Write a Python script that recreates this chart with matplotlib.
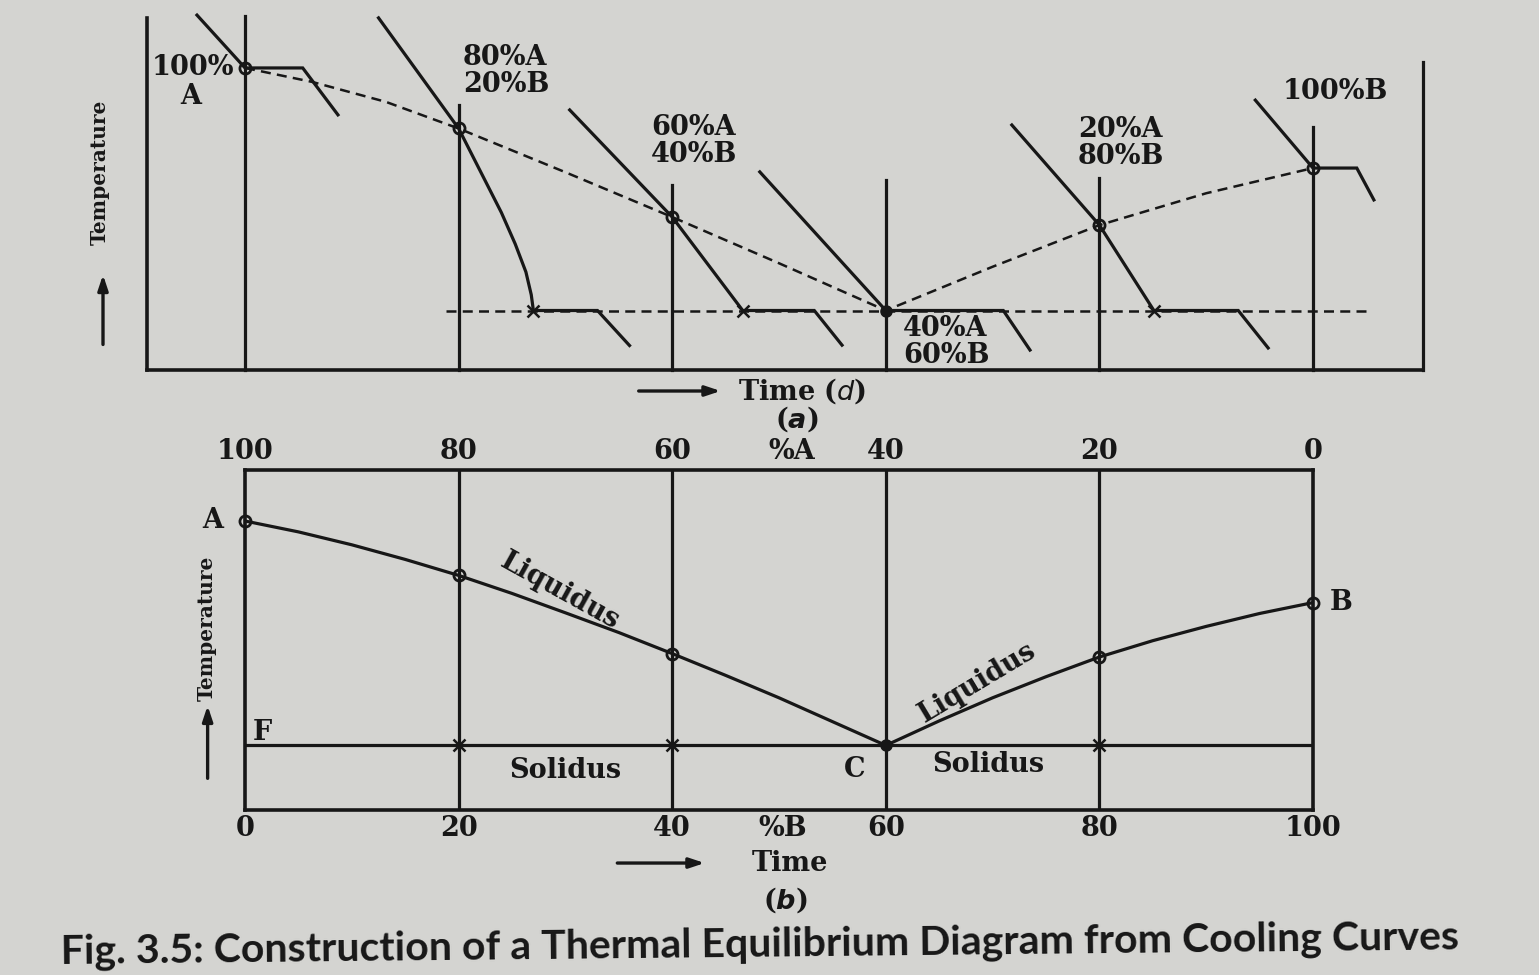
import numpy as np
import matplotlib
matplotlib.use("Agg")
import matplotlib.pyplot as plt

# ---- data (panel a: cooling curves, x = composition %B, y = temperature) ----
vert_x_a   = [0, 20, 40, 60, 80, 100]
vert_top_a = [101, 75.7, 52.9, 54.3, 54.9, 69.4]

cool_A_x  = [-4.5, 0, 5.4, 8.7]
cool_A_t  = [101.4, 86.3, 86.3, 72.9]
cool_80_x = [12.5, 20, 22, 24, 25.3, 26.3, 26.8, 27, 33, 36]
cool_80_t = [100.6, 69, 57, 45, 36, 28, 21.5, 17, 17, 7]
cool_60_x = [30.4, 40, 46.6, 53.3, 55.9]
cool_60_t = [74.3, 43.7, 17, 17, 7.1]
cool_40_x = [48.2, 60, 71, 73.5]
cool_40_t = [56.6, 17, 17, 5.7]
cool_20_x = [71.8, 80, 85.1, 93, 95.8]
cool_20_t = [70, 41.4, 17, 17, 6.3]
cool_B_x  = [94.6, 100, 104.1, 105.7]
cool_B_t  = [77.1, 57.7, 57.7, 48.6]

liq_a_x = [0, 6.3, 13.2, 20, 30, 40, 50, 60, 70, 80, 90, 100]
liq_a_t = [86.3, 82.3, 76.6, 69, 56.5, 43.7, 30.5, 17, 29.5, 41.4, 50.5, 57.7]
sol_a_x = [18.8, 105.1]
sol_a_t = 17

liq_pts_a_x = [0, 20, 40, 80, 100]
liq_pts_a_t = [86.3, 69, 43.7, 41.4, 57.7]
sol_pts_a_x = [27, 46.6, 85.1]
eut_a = (60, 17)

labels_a = ["100%", "A", "80%A\n20%B", "60%A\n40%B", "40%A\n60%B", "20%A\n80%B", "100%B"]

# ---- data (panel b: equilibrium diagram) ----
comp_b    = [0, 20, 40, 60, 80, 100]
pct_A     = ["100", "80", "60", "40", "20", "0"]
pct_B     = ["0", "20", "40", "60", "80", "100"]
liq_left_x  = [0, 5, 10, 15, 20, 25, 30, 35, 40, 45, 50, 55, 60]
liq_left_t  = [85, 81.8, 78, 73.7, 69, 63.7, 58, 52.2, 46, 39.6, 33, 26, 19]
liq_right_x = [60, 65, 70, 75, 80, 85, 90, 95, 100]
liq_right_t = [19, 26.2, 33, 39.2, 45, 49.8, 54, 57.8, 61]
solidus_t   = 19
open_pts_x  = [0, 20, 40, 80, 100]
open_pts_t  = [85, 69, 46, 45, 61]
cross_x     = [20, 40, 80]

INK = "#171717"
BG = "#d4d4d1"
plt.rcParams["font.family"] = "DejaVu Serif"

fig = plt.figure(figsize=(15.39, 9.75), dpi=100, facecolor=BG)

# ---------------------------- panel (a) ----------------------------
axa = fig.add_axes([147 / 1539, 605 / 975, 1276 / 1539, 350 / 975])
axa.set_facecolor("none")
axa.set_xlim(-9.18, 110.3)
axa.set_ylim(0, 100)
for s in ["top", "right"]:
    axa.spines[s].set_visible(False)
for s in ["left", "bottom"]:
    axa.spines[s].set_linewidth(2.6)
    axa.spines[s].set_color(INK)
axa.spines["left"].set_bounds(0, 100.6)
axa.set_xticks([])
axa.set_yticks([])

lw = 2.3
for x, top in zip(vert_x_a, vert_top_a):
    axa.plot([x, x], [0, top], color=INK, lw=lw, clip_on=False)
axa.plot([110.3, 110.3], [0, 88], color=INK, lw=lw, clip_on=False)

for cx, ct in [(cool_A_x, cool_A_t), (cool_80_x, cool_80_t), (cool_60_x, cool_60_t),
               (cool_40_x, cool_40_t), (cool_20_x, cool_20_t), (cool_B_x, cool_B_t)]:
    axa.plot(cx, ct, color=INK, lw=lw, clip_on=False, solid_joinstyle="miter")

axa.plot(liq_a_x, liq_a_t, color=INK, lw=1.8, ls=(0, (4, 2.5)))
axa.plot(sol_a_x, [sol_a_t, sol_a_t], color=INK, lw=1.8, ls=(0, (4, 2.5)), clip_on=False)
axa.plot(liq_pts_a_x, liq_pts_a_t, "o", ms=8, mfc="none", mec=INK, mew=2, ls="none")
axa.plot(sol_pts_a_x, [sol_a_t] * 3, "x", ms=9, mec=INK, mew=1.8, ls="none")
axa.plot(*eut_a, "o", ms=8, color=INK)

fs = 19.5
kw = dict(color=INK, fontsize=fs, fontweight="bold", linespacing=1.0)
kw_t = dict(color=INK, fontsize=14.5, fontweight="bold")
axa.text(-1.0, 86.3, labels_a[0], ha="right", va="center", **kw)
axa.text(-5.1, 78, labels_a[1], ha="center", va="center", **kw)
axa.text(20.4, 85.3, labels_a[2], ha="left", va="center", **kw)
axa.text(38.0, 65.4, labels_a[3], ha="left", va="center", **kw)
axa.text(61.6, 8.0, labels_a[4], ha="left", va="center", **kw)
axa.text(78.0, 64.9, labels_a[5], ha="left", va="center", **kw)
axa.text(97.2, 79.7, labels_a[6], ha="left", va="center", **kw)

axa.text(-13.6, 56.6, "Temperature", rotation=90, ha="center", va="center", **kw_t)
axa.annotate("", xy=(-13.3, 28), xytext=(-13.3, 6.5), annotation_clip=False,
             arrowprops=dict(arrowstyle="-|>,head_length=0.9,head_width=0.3", color=INK, lw=2.4))
axa.annotate("", xy=(44.8, -6), xytext=(36.6, -6), annotation_clip=False,
             arrowprops=dict(arrowstyle="-|>,head_length=0.9,head_width=0.3", color=INK, lw=2.4))
axa.text(46.2, -6, "Time ($d$)", ha="left", va="center", **kw)
axa.text(51.7, -13.9, "($\\boldsymbol{a}$)", ha="center", va="center", **kw)

# ---------------------------- panel (b) ----------------------------
axb = fig.add_axes([245 / 1539, 165 / 975, 1068 / 1539, 340 / 975])
axb.set_facecolor("none")
axb.set_xlim(0, 100)
axb.set_ylim(0, 100)
for s in axb.spines.values():
    s.set_linewidth(2.6)
    s.set_color(INK)
axb.set_xticks([])
axb.set_yticks([])

for x in comp_b[1:-1]:
    axb.axvline(x, color=INK, lw=lw)
axb.axhline(solidus_t, color=INK, lw=lw)
axb.plot(liq_left_x, liq_left_t, color=INK, lw=lw)
axb.plot(liq_right_x, liq_right_t, color=INK, lw=lw)
axb.plot(open_pts_x, open_pts_t, "o", ms=8, mfc="none", mec=INK, mew=2, ls="none", clip_on=False)
axb.plot(cross_x, [solidus_t] * 3, "x", ms=9, mec=INK, mew=1.8, ls="none")
axb.plot(60, solidus_t, "o", ms=8, color=INK)

for x, a, b in zip(comp_b, pct_A, pct_B):
    axb.text(x, 105.3, a, ha="center", va="center", **kw)
    axb.text(x, -5.5, b, ha="center", va="center", **kw)
axb.text(51.2, 105.3, "%A", ha="center", va="center", **kw)
axb.text(50.3, -5.5, "%B", ha="center", va="center", **kw)

axb.text(-3.0, 85, "A", ha="center", va="center", **kw)
axb.text(102.6, 61, "B", ha="center", va="center", **kw)
axb.text(1.6, 22.8, "F", ha="center", va="center", **kw)
axb.text(57.1, 11.8, "C", ha="center", va="center", **kw)
axb.text(30.0, 11.5, "Solidus", ha="center", va="center", **kw)
axb.text(69.6, 13.5, "Solidus", ha="center", va="center", **kw)
axb.text(29.5, 64.5, "Liquidus", rotation=-29, ha="center", va="center", **kw)
axb.text(68.6, 37.5, "Liquidus", rotation=31, ha="center", va="center", **kw)

axb.text(-3.6, 53.5, "Temperature", rotation=90, ha="center", va="center", **kw_t)
axb.annotate("", xy=(-3.5, 31.5), xytext=(-3.5, 8.5), annotation_clip=False,
             arrowprops=dict(arrowstyle="-|>,head_length=0.9,head_width=0.3", color=INK, lw=2.4))
axb.annotate("", xy=(43.3, -15.6), xytext=(34.6, -15.6), annotation_clip=False,
             arrowprops=dict(arrowstyle="-|>,head_length=0.9,head_width=0.3", color=INK, lw=2.4))
axb.text(51.0, -15.6, "Time", ha="center", va="center", **kw)
axb.text(50.6, -26.5, "($\\boldsymbol{b}$)", ha="center", va="center", **kw)

fig.text(0.494, 0.031, "Fig. 3.5: Construction of a Thermal Equilibrium Diagram from Cooling Curves",
         ha="center", va="center", rotation=0.6, color=INK, fontsize=29.5,
         fontfamily="Lato", fontweight="bold")

fig.savefig("out.png", dpi=100, facecolor=BG)
